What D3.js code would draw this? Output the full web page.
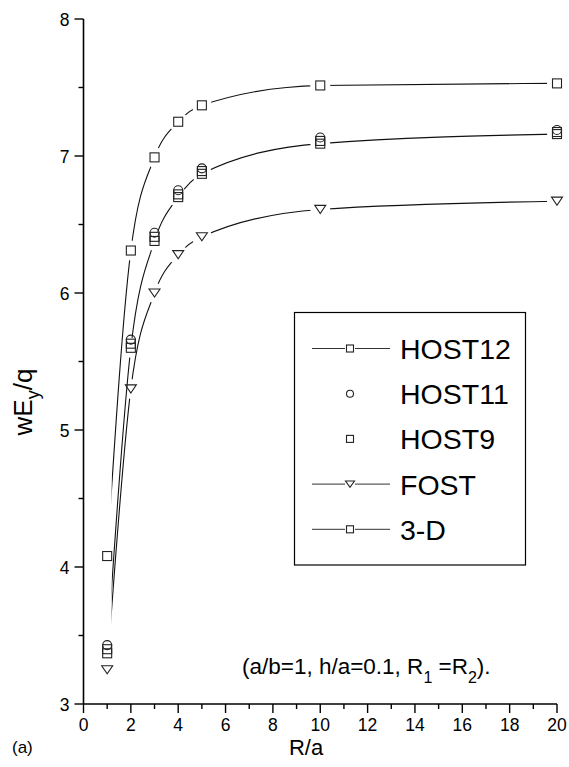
<!DOCTYPE html>
<html><head><meta charset="utf-8">
<script src="https://cdn.jsdelivr.net/npm/d3@7/dist/d3.min.js"></script>
<style>body{margin:0;background:#fff}svg{display:block;font-family:"Liberation Sans",Arial,Helvetica,sans-serif}</style>
</head><body><svg id="c" width="569" height="767"></svg>
<script>
const ratio = [1, 2, 3, 4, 5, 10, 20];
const host12 = [4.08, 6.31, 6.99, 7.25, 7.37, 7.515, 7.53];
const host11 = [3.43, 5.66, 6.44, 6.75, 6.91, 7.135, 7.19];
const host9  = [3.40, 5.63, 6.41, 6.72, 6.89, 7.11, 7.175];
const fost   = [3.25, 5.30, 6.00, 6.28, 6.41, 6.61, 6.67];
const threeD = [3.37, 5.60, 6.38, 6.70, 6.87, 7.09, 7.16];
const xTickVals = [0, 2, 4, 6, 8, 10, 12, 14, 16, 18, 20];
const yTickVals = [3, 4, 5, 6, 7, 8];
const legendNames = ["HOST12", "HOST11", "HOST9", "FOST", "3-D"];

const svg = d3.select("#c");
const x = d3.scaleLinear().domain([0, 20]).range([83.5, 557]);
const y = d3.scaleLinear().domain([3, 8]).range([704, 19]);

const series = [
  {name: "HOST12", vals: host12, sym: "square", line: true},
  {name: "HOST11", vals: host11, sym: "circle", line: false},
  {name: "HOST9",  vals: host9,  sym: "square", line: false},
  {name: "FOST",   vals: fost,   sym: "triangle", line: true},
  {name: "3-D",    vals: threeD, sym: "square", line: true}
];

// axes
const gx = svg.append("g").attr("transform", `translate(0,${y(3)})`);
gx.append("line").attr("x1", x(0)).attr("x2", x(20)).attr("stroke", "#000").attr("stroke-width", 1.6);
gx.selectAll("line.t").data(d3.range(0, 21, 1)).join("line").attr("class", "t")
  .attr("x1", d => x(d)).attr("x2", d => x(d)).attr("y1", 0).attr("y2", d => d % 2 === 0 ? 9 : 5)
  .attr("stroke", "#000").attr("stroke-width", 1.4);
gx.selectAll("text").data(xTickVals).join("text")
  .attr("x", d => x(d)).attr("y", 27).attr("text-anchor", "middle")
  .attr("font-size", 17.5).text(d => d);

const gy = svg.append("g").attr("transform", `translate(${x(0)},0)`);
gy.append("line").attr("y1", y(3)).attr("y2", y(8)).attr("stroke", "#000").attr("stroke-width", 1.6);
gy.selectAll("line.t").data(d3.range(3, 8.01, 0.5)).join("line").attr("class", "t")
  .attr("y1", d => y(d)).attr("y2", d => y(d)).attr("x1", 0).attr("x2", d => Number.isInteger(d) ? -9 : -5)
  .attr("stroke", "#000").attr("stroke-width", 1.4);
gy.selectAll("text").data(yTickVals).join("text")
  .attr("x", -14).attr("y", d => y(d) + 6.5).attr("text-anchor", "end")
  .attr("font-size", 17.5).text(d => d);

// lines with gaps around symbols
const defs = svg.append("defs");
defs.append("clipPath").attr("id", "clipL").append("rect")
  .attr("x", x(1.19)).attr("y", 0).attr("width", x(20) - x(1.19) + 20).attr("height", 767);
const lineGen = d3.line().x(d => x(d[0])).y(d => y(d[1])).curve(d3.curveMonotoneX);

series.filter(s => s.line).forEach((s, i) => {
  const pts = ratio.map((r, j) => [r, s.vals[j]]);
  const m = defs.append("mask").attr("id", "m" + i).attr("maskUnits", "userSpaceOnUse")
    .attr("x", 0).attr("y", 0).attr("width", 569).attr("height", 767);
  m.append("rect").attr("width", 569).attr("height", 767).attr("fill", "#fff");
  m.selectAll("circle").data(pts).join("circle")
    .attr("cx", d => x(d[0])).attr("cy", d => y(d[1])).attr("r", 10).attr("fill", "#000");
  svg.append("g").attr("clip-path", "url(#clipL)")
    .append("path").datum(pts).attr("d", lineGen).attr("mask", `url(#m${i})`)
    .attr("fill", "none").attr("stroke", "#111").attr("stroke-width", 1.1);
});

function drawSym(g, sym, cx, cy, s) {
  if (sym === "square") {
    g.append("rect").attr("x", cx - s / 2).attr("y", cy - s / 2).attr("width", s).attr("height", s)
      .attr("fill", "none").attr("stroke", "#222").attr("stroke-width", 1.1);
  } else if (sym === "circle") {
    g.append("circle").attr("cx", cx).attr("cy", cy).attr("r", s / 2)
      .attr("fill", "none").attr("stroke", "#222").attr("stroke-width", 1.1);
  } else {
    const h = s * 0.9;
    g.append("path").attr("d", `M${cx - s / 2 - 1},${cy - h / 2}L${cx + s / 2 + 1},${cy - h / 2}L${cx},${cy + h / 2}Z`)
      .attr("fill", "none").attr("stroke", "#222").attr("stroke-width", 1.1);
  }
}

const gm = svg.append("g");
series.forEach(s => {
  ratio.forEach((r, j) => drawSym(gm, s.sym, x(r), y(s.vals[j]), 9));
});

// legend
const lg = svg.append("g");
lg.append("rect").attr("x", 294.5).attr("y", 312.5).attr("width", 231).attr("height", 252.5)
  .attr("fill", "none").attr("stroke", "#000").attr("stroke-width", 1.2);
series.forEach((s, i) => {
  const cy = 348.5 + i * 45.2;
  if (s.line) {
    lg.append("line").attr("x1", 312).attr("x2", 345).attr("y1", cy).attr("y2", cy).attr("stroke", "#333").attr("stroke-width", 1);
    lg.append("line").attr("x1", 355).attr("x2", 390).attr("y1", cy).attr("y2", cy).attr("stroke", "#333").attr("stroke-width", 1);
  }
  drawSym(lg, s.sym, 350, cy, 7);
  lg.append("text").attr("x", 400).attr("y", cy + 10.5).attr("font-size", 28.5).text(legendNames[i]);
});

// labels
const yl = svg.append("text").attr("transform", "translate(32,402) rotate(-90)")
  .attr("text-anchor", "middle").attr("font-size", 26);
yl.append("tspan").text("wE");
yl.append("tspan").attr("font-size", 18).attr("dy", 7).text("y");
yl.append("tspan").attr("dy", -7).text("/q");

svg.append("text").attr("x", 306).attr("y", 755).attr("text-anchor", "middle").attr("font-size", 22).text("R/a");
svg.append("text").attr("x", 12).attr("y", 753).attr("font-size", 17).text("(a)");

const an = svg.append("text").attr("x", 242).attr("y", 674).attr("font-size", 22.5);
an.append("tspan").text("(a/b=1, h/a=0.1, R");
an.append("tspan").attr("font-size", 16).attr("dy", 9).text("1");
an.append("tspan").attr("dy", -9).text(" =R");
an.append("tspan").attr("font-size", 16).attr("dy", 9).text("2");
an.append("tspan").attr("dy", -9).text(").");
</script></body></html>
